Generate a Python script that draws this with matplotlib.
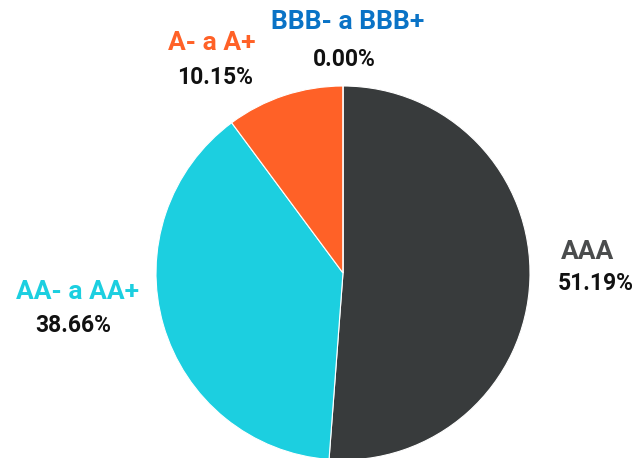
import matplotlib.pyplot as plt

# data
categories = ['AAA', 'AA- a AA+', 'A- a A+', 'BBB- a BBB+']
shares = [51.19, 38.66, 10.15, 0.00]
slice_colors = ['#383b3c', '#1ccfe0', '#ff6127', '#0a73c6']
label_colors = ['#4a4c4d', '#1ccfe0', '#ff6127', '#0a73c6']

W, H = 638, 458
fig = plt.figure(figsize=(W / 100, H / 100), dpi=100)
ax = fig.add_axes([0, 0, 1, 1])
ax.axis('off')

ax.pie(shares, colors=slice_colors, startangle=90, counterclock=False,
       center=(343, H - 273), radius=187,
       wedgeprops=dict(edgecolor='white', linewidth=0.8))
ax.set_xlim(0, W)
ax.set_ylim(0, H)
ax.set_aspect('equal')

font = 'Roboto'
# label anchors (pixel coords from top-left): name, value, alignment
spots = [
    ((561, 252), (558, 284), 'left'),
    ((78, 292), (73, 325), 'center'),
    ((212, 43), (215, 78), 'center'),
    ((348, 22), (344, 60), 'center'),
]
for cat, val, col, (p1, p2, ha) in zip(categories, shares, label_colors, spots):
    ax.text(p1[0], H - p1[1], cat, color=col, fontsize=19, fontweight='bold',
            family=font, ha=ha, va='center')
    ax.text(p2[0], H - p2[1], f'{val:.2f}%', color='#111111', fontsize=16.5,
            fontweight='bold', family=font, ha=ha, va='center')

fig.savefig('out.png', dpi=100)
